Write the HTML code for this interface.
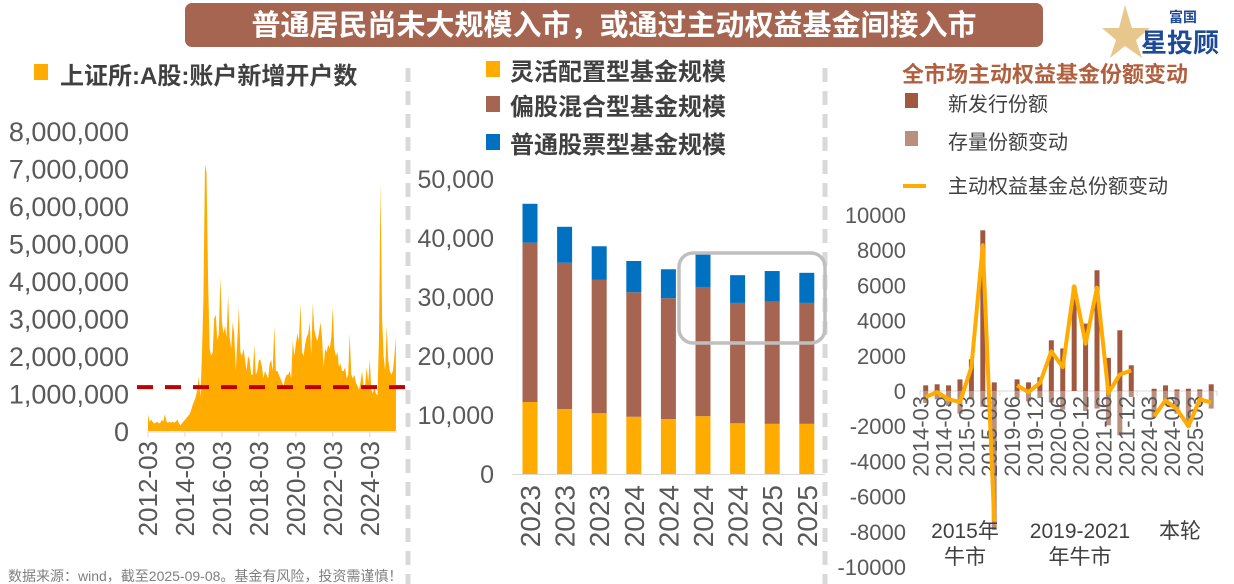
<!DOCTYPE html>
<html><head><meta charset="utf-8"><style>
html,body{margin:0;padding:0;background:#fff}
svg{display:block;font-family:"Liberation Sans","Noto Sans CJK SC",sans-serif}
</style></head><body>
<svg id="s" width="1234" height="584" viewBox="0 0 1234 584">
<rect x="185" y="3" width="858" height="44" rx="7" fill="#a66550"/>
<text x="614" y="35" text-anchor="middle" font-size="29" font-weight="bold" fill="#fff">普通居民尚未大规模入市，或通过主动权益基金间接入市</text>
<g>
<polygon points="1125,5 1132,28 1150,28 1136,40 1142,58 1125,46 1110,58 1116,40 1102,28 1119,28" fill="#e2b971" opacity="0.8"/>
<text x="1183" y="22" text-anchor="middle" font-size="14" font-weight="bold" fill="#1d4a96">富国</text>
<text x="1180" y="52" text-anchor="middle" font-size="26" font-weight="bold" fill="#1d4a96">星投顾</text>
</g>
<line x1="408" y1="68" x2="408" y2="584" stroke="#d9d9d9" stroke-width="5" stroke-dasharray="14,9"/>
<line x1="825" y1="68" x2="825" y2="584" stroke="#d9d9d9" stroke-width="5" stroke-dasharray="14,9"/>
<text x="8" y="581" font-size="14" fill="#7f7f7f">数据来源：wind，截至2025-09-08。基金有风险，投资需谨慎！</text>
<g id="left"></g><g id="mid"></g><g id="right"></g>
</svg>
<script>
// ---------- Left chart data ----------
const leftValues=[0.45,0.25,0.3,0.25,0.2,0.22,0.25,0.2,0.22,0.3,0.25,0.45,0.25,0.22,0.25,0.22,0.25,0.22,0.25,0.3,0.22,0.15,0.2,0.25,0.3,0.35,
0.4,0.45,0.55,0.7,0.8,0.9,1.1,1.45,0.9,2.0,3.5,
7.1,6.9,4.0,2.2,2.0,2.1,3.0,3.1,2.4,
2.6,4.1,2.9,2.6,2.8,2.5,3.6,2.5,2.2,2.9,2.6,1.6,2.4,3.3,2.1,2.0,2.2,1.9,1.6,2.0,1.9,1.5,1.5,2.3,
1.5,1.6,1.9,1.9,1.7,1.4,1.6,1.5,1.4,1.8,1.9,1.6,2.8,1.6,1.6,1.5,1.4,1.3,1.2,1.4,1.5,1.5,1.6,1.4,2.4,
2.0,2.3,2.6,2.4,3.4,2.1,2.0,2.3,2.5,2.6,2.9,2.0,3.4,2.7,2.5,2.4,2.6,2.9,2.5,1.7,2.2,2.1,2.3,2.2,2.5,3.3,
2.2,2.0,2.1,1.7,1.8,1.6,1.6,1.7,1.4,1.5,2.6,1.5,1.4,1.5,1.3,1.2,1.1,1.3,1.6,1.2,
1.2,1.7,1.3,1.9,1.1,1.0,1.2,1.0,0.95,2.5,6.6,3.0,2.0,1.6,2.8,1.9,1.6,1.5,1.6,2.0,2.5];
const leftYTicks=["0","1,000,000","2,000,000","3,000,000","4,000,000","5,000,000","6,000,000","7,000,000","8,000,000"];
const leftXTicks=["2012-03","2014-03","2016-03","2018-03","2020-03","2022-03","2024-03"];
const leftRefLine=1.17;
// ---------- Middle chart data ----------
const midCats=["2023","2023","2023","2024","2024","2024","2024","2025","2025"];
const flexScale=[12.2,11.0,10.3,9.7,9.3,9.8,8.6,8.5,8.5];
const mixedScale=[27.0,24.8,22.6,21.1,20.5,21.9,20.4,20.7,20.5];
const stockScale=[6.6,6.1,5.7,5.3,4.9,5.6,4.7,5.2,5.1];
const midYTicks=["0","10,000","20,000","30,000","40,000","50,000"];
// ---------- Right chart data ----------
const rightCats=["2014-03","2014-06","2014-09","2014-12","2015-03","2015-06","2015-09","",
"2019-06","2019-09","2019-12","2020-03","2020-06","2020-09","2020-12","2021-03","2021-06","2021-09","2021-12","",
"2024-03","2024-06","2024-09","2024-12","2025-03","2025-06"];
const newIssue=[322,380,322,660,1800,9130,490,null,660,490,780,2880,2420,5300,3830,6860,1880,3450,1460,null,130,320,90,130,90,380];
const stockChange=[-680,-470,-850,-1290,-470,-900,-7900,null,-400,-590,-400,-660,-1060,650,-1140,-1000,-1950,-2520,-340,null,-1480,-720,-1290,-2050,-720,-1000];
const totalChange=[-340,-60,-470,-625,1360,8280,-7400,null,320,-60,450,2250,1360,5950,2690,5870,-110,930,1170,null,-1440,-530,-1040,-2000,-470,-660];
const rightYTicks=["-10000","-8000","-6000","-4000","-2000","0","2000","4000","6000","8000","10000"];

const NS="http://www.w3.org/2000/svg";
function mk(tag,attrs,parent,txt){const e=document.createElementNS(NS,tag);for(const k in attrs)e.setAttribute(k,attrs[k]);if(txt!==undefined)e.textContent=txt;parent.appendChild(e);return e;}

// ---------- Left ----------
(function(){
const g=document.getElementById('left');
const yL=v=>431-v*37.5, xL=i=>148+i*1.54;
let t=mk('text',{x:60,y:84,'font-size':24,'font-weight':'bold',fill:'#404040'},g,'上证所:A股:账户新增开户数');

let r=mk('rect',{x:34,y:64,width:14,height:16,fill:'#ffab00'},g);

leftYTicks.forEach((s,i)=>{const e=mk('text',{x:129,y:yL(i)+10,'text-anchor':'end','font-size':27,fill:'#595959'},g,s);
});
let d='M'+xL(0)+','+yL(0);
leftValues.forEach((v,i)=>{d+=' L'+xL(i).toFixed(1)+','+yL(v).toFixed(1);});
d+=' L'+xL(leftValues.length-1)+','+yL(0)+' Z';
const a=mk('path',{d:d,fill:'#ffab00'},g);

const ax=mk('line',{x1:147,y1:432,x2:397,y2:432,stroke:'#d9d9d9','stroke-width':1},g);

leftXTicks.forEach((s,k)=>{const x=xL(k*24);
mk('line',{x1:x,y1:432,x2:x,y2:437,stroke:'#d9d9d9'},g);
const e=mk('text',{x:0,y:0,transform:`translate(${x+9},441) rotate(-90)`,'text-anchor':'end','font-size':26,fill:'#595959'},g,s);
});
const rl=mk('line',{x1:137,y1:yL(leftRefLine),x2:405,y2:yL(leftRefLine),stroke:'#c00000','stroke-width':4,'stroke-dasharray':'16,12'},g);

})();

// ---------- Middle ----------
(function(){
const g=document.getElementById('mid');
const yM=v=>474-v*5.9, xM=i=>530+i*34.6;
const leg=[["#ffab00","灵活配置型基金规模",80],["#a66550","偏股混合型基金规模",115],["#0070c0","普通股票型基金规模",153]];
leg.forEach(l=>{const r=mk('rect',{x:486,y:l[2]-19,width:14,height:16,fill:l[0]},g);

const t=mk('text',{x:510,y:l[2],'font-size':24,'font-weight':'bold',fill:'#404040'},g,l[1]);
});
midYTicks.forEach((s,i)=>{const e=mk('text',{x:494,y:yM(i*10)+9,'text-anchor':'end','font-size':25,fill:'#595959'},g,s);
});
midCats.forEach((c,i)=>{const x=xM(i)-7.5;let b=0;
[[flexScale[i],'#ffab00','bar-flexible'],[mixedScale[i],'#a66550','bar-mixed'],[stockScale[i],'#0070c0','bar-stock']].forEach(s=>{
const r=mk('rect',{x:x,y:yM(b+s[0]),width:15,height:s[0]*5.9,fill:s[1]},g);
b+=s[0];});
const t=mk('text',{x:0,y:0,transform:`translate(${xM(i)+10},485) rotate(-90)`,'text-anchor':'end','font-size':28,fill:'#595959'},g,c);
});
const ax=mk('line',{x1:512,y1:474.5,x2:825,y2:474.5,stroke:'#d9d9d9'},g);

const hl=mk('rect',{x:679,y:253,width:146,height:90,rx:14,fill:'none',stroke:'#bfbfbf','stroke-width':3.5},g);

})();

// ---------- Right ----------
(function(){
const g=document.getElementById('right');
const yR=v=>391-v*0.0176, xR=i=>920+11.42*(i+0.5);
let t=mk('text',{x:1045,y:82,'text-anchor':'middle','font-size':22,'font-weight':'bold',fill:'#b0603f'},g,'全市场主动权益基金份额变动');

const lg=[["#a0583f","新发行份额",110],["#b99080","存量份额变动",148]];
lg.forEach(l=>{const r=mk('rect',{x:905,y:l[2]-17,width:13,height:15,fill:l[0]},g);

const e=mk('text',{x:948,y:l[2]+1,'font-size':20,fill:'#404040'},g,l[1]);
});
const ll=mk('line',{x1:903,y1:186,x2:926,y2:186,stroke:'#ffab00','stroke-width':4},g);

const lt=mk('text',{x:948,y:193,'font-size':20,fill:'#404040'},g,'主动权益基金总份额变动');

rightYTicks.forEach((s,i)=>{const e=mk('text',{x:906,y:yR(-10000+i*2000)+8,'text-anchor':'end','font-size':22,fill:'#595959'},g,s);
});
const ax=mk('line',{x1:920,y1:391,x2:1217,y2:391,stroke:'#d9d9d9'},g);

[0,7,19,26].forEach(i=>{mk('line',{x1:920+11.42*i,y1:391,x2:920+11.42*i,y2:396,stroke:'#d9d9d9'},g);});
rightCats.forEach((c,i)=>{const x=xR(i)-2.5;
if(newIssue[i]!==null){const r=mk('rect',{x:x,y:yR(Math.max(newIssue[i],0)),width:5,height:Math.abs(newIssue[i])*0.0176,fill:'#a0583f'},g);
}
if(stockChange[i]!==null){const v=stockChange[i];const base=v>=0?Math.max(newIssue[i],0):0;
const r=mk('rect',{x:x,y:v>=0?yR(base+v):yR(0),width:5,height:Math.abs(v)*0.0176,fill:'#b99080'},g);
}
if(i%2===0&&c){const e=mk('text',{x:0,y:0,transform:`translate(${xR(i)+3},396) rotate(-90)`,'text-anchor':'end','font-size':22,fill:'#595959'},g,c);
}});
let segs=[],cur=[];
totalChange.forEach((v,i)=>{if(v===null){if(cur.length)segs.push(cur);cur=[];}else cur.push(xR(i).toFixed(1)+','+yR(v).toFixed(1));});
if(cur.length)segs.push(cur);
segs.forEach(s=>{const p=mk('polyline',{points:s.join(' '),fill:'none',stroke:'#ffab00','stroke-width':4,'stroke-linejoin':'round'},g);
});
[["2015年",965,538],["牛市",965,564],["2019-2021",1080,538],["年牛市",1080,564],["本轮",1180,538]].forEach(a=>{
const e=mk('text',{x:a[1],y:a[2],'text-anchor':'middle','font-size':21,fill:'#404040'},g,a[0]);
});
})();
</script>
</body></html>
